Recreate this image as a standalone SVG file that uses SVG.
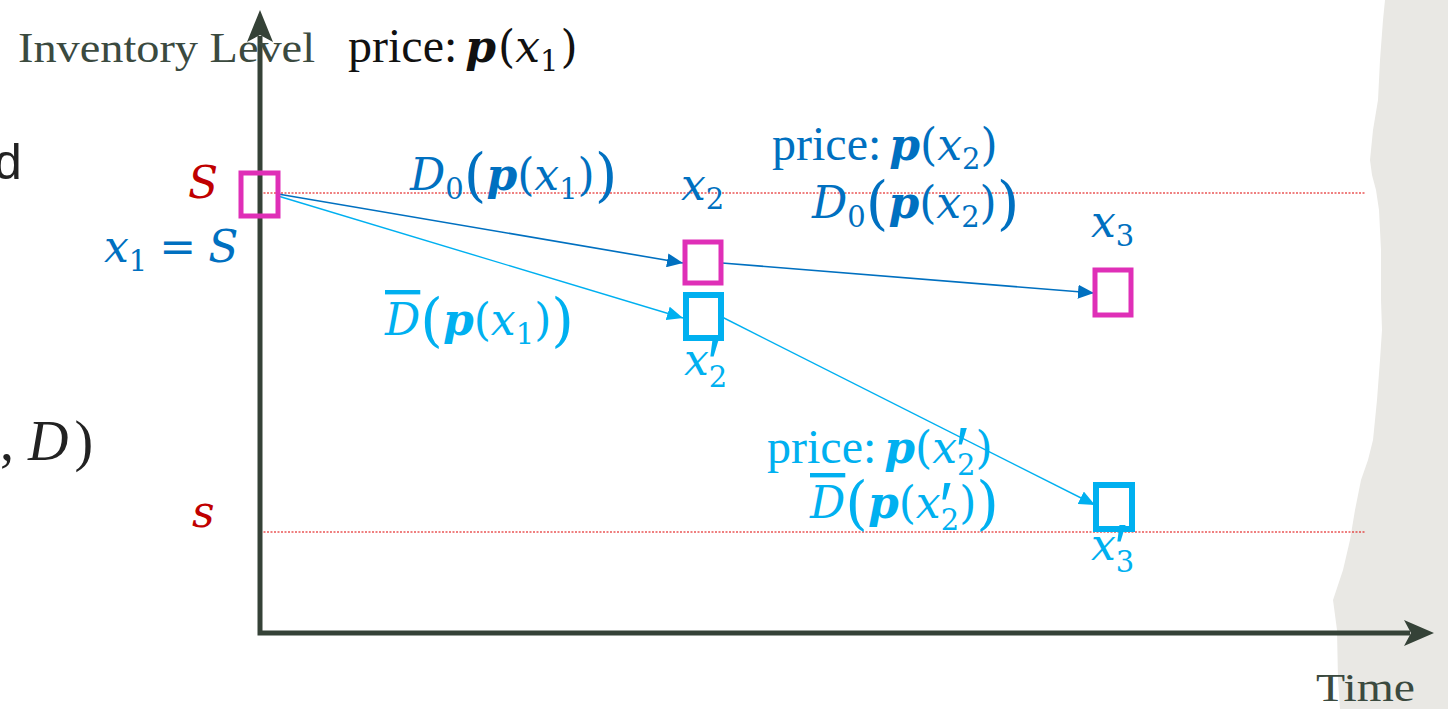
<svg xmlns="http://www.w3.org/2000/svg" width="1448" height="709" viewBox="0 0 1448 709">
<style>
.serif{font-family:"Liberation Serif","DejaVu Serif",serif;}
.m{font-family:"DejaVu Serif","Liberation Serif",serif;font-size:44px;}
.w{font-family:"Liberation Serif","DejaVu Serif",serif;font-size:48px;}
.i{font-style:italic;}
.bi{font-style:italic;font-weight:bold;}
.dk{fill:#0070C0;}
.cy{fill:#00B0F0;}
.sub{font-size:29px;}
.pr{font-family:"Liberation Sans","DejaVu Sans",sans-serif;font-size:64px;}
.big{font-size:58px;}
.axis{stroke:#354237;stroke-width:5;fill:none;}
.guide{stroke:#E00000;stroke-width:1.2;stroke-dasharray:2 1.5;fill:none;}
.boxm{fill:none;stroke:#DF2FB7;stroke-width:5;}
.boxc{fill:none;stroke:#00B0F0;stroke-width:6;}
.cdk{stroke:#0070C0;stroke-width:1.6;fill:none;}
.ccy{stroke:#00B0F0;stroke-width:1.4;fill:none;}
.ol{text-decoration:overline;}
</style>
<defs>
<marker id="ahDk" markerUnits="userSpaceOnUse" markerWidth="18" markerHeight="14" refX="16" refY="7" orient="auto"><path d="M0,0 L16,7 L0,14 Z" fill="#0070C0"/></marker>
<marker id="ahCy" markerUnits="userSpaceOnUse" markerWidth="18" markerHeight="14" refX="16" refY="7" orient="auto"><path d="M0,0 L16,7 L0,14 Z" fill="#00B0F0"/></marker>
</defs>
<rect width="1448" height="709" fill="#FFFFFF"/>
<path id="paper-edge" d="M1385,0 L1383,20 L1380,60 L1378,100 L1373,130 L1370,160 L1372,175 L1376,190 L1379,210 L1381,250 L1381,300 L1382,330 L1380,360 L1377,400 L1373,440 L1368,460 L1361,480 L1355,510 L1350,540 L1343,570 L1333,600 L1337,630 L1338,680 L1340,709 L1448,709 L1448,0 Z" fill="#E9E8E4"/>
<g id="slide-fragments" fill="#222222">
<text x="-6" y="179" font-family="Liberation Sans, Arial, sans-serif" font-size="50">d</text>
<text x="0" y="460" class="serif" font-size="56"><tspan>,</tspan><tspan class="i" dx="14">D</tspan><tspan dx="6">)</tspan></text>
</g>
<g id="guides">
<line class="guide" x1="260" y1="193" x2="1366" y2="193"/>
<line class="guide" x1="260" y1="532" x2="1366" y2="532"/>
</g>
<g id="axes">
<polyline class="axis" points="260,36 260,633 1410,633"/>
<path d="M260,10 L273,42 L260,35 L247,42 Z" fill="#354237"/>
<path d="M1434,633 L1404,620 L1411,633 L1404,646 Z" fill="#354237"/>
<text x="18" y="62" class="serif" font-size="42" fill="#3B4A3F" textLength="297" lengthAdjust="spacingAndGlyphs">Inventory Level</text>
<text x="1316" y="701" class="serif" font-size="41" fill="#3B4A3F" textLength="99" lengthAdjust="spacingAndGlyphs">Time</text>
</g>
<g id="level-labels">
<text x="188" y="198" class="m i" font-size="46" fill="#C00000">S</text>
<text x="192" y="527" class="m i" font-size="40" fill="#C00000">s</text>
</g>
<g id="connectors">
<line class="cdk" x1="278" y1="194" x2="683" y2="263" marker-end="url(#ahDk)"/>
<line class="ccy" x1="278" y1="196" x2="683" y2="318" marker-end="url(#ahCy)"/>
<line class="cdk" x1="722" y1="263" x2="1094" y2="293" marker-end="url(#ahDk)"/>
<line class="ccy" x1="722" y1="317" x2="1095" y2="505" marker-end="url(#ahCy)"/>
</g>
<g id="node-x1">
<rect class="boxm" x="241" y="173" width="37" height="43"/>
<text x="104" y="262" class="m dk"><tspan class="i">x</tspan><tspan class="sub" dy="9">1</tspan><tspan dy="-9" dx="12">=</tspan><tspan class="i" dx="12">S</tspan></text>
</g>
<g id="node-x2">
<rect class="boxm" x="685" y="242" width="36" height="41"/>
<text x="681" y="200" class="m dk"><tspan class="i">x</tspan><tspan class="sub" dy="9">2</tspan></text>
</g>
<g id="node-x2p">
<rect class="boxc" x="686" y="295" width="35" height="43"/>
<text x="684" y="375" class="m cy"><tspan class="i">x</tspan><tspan class="pr" dy="10" dx="-1">′</tspan><tspan class="sub" dx="-11" dy="2">2</tspan></text>
</g>
<g id="node-x3">
<rect class="boxm" x="1095" y="270" width="36" height="45"/>
<text x="1091" y="237" class="m dk"><tspan class="i">x</tspan><tspan class="sub" dy="9">3</tspan></text>
</g>
<g id="node-x3p">
<rect class="boxc" x="1096" y="485" width="36" height="44"/>
<text x="1091" y="560" class="m cy"><tspan class="i">x</tspan><tspan class="pr" dy="10" dx="-1">′</tspan><tspan class="sub" dx="-11" dy="2">3</tspan></text>
</g>
<g id="labels">
<text x="348" y="62" class="m" fill="#111111"><tspan class="w">price:</tspan><tspan class="bi" dx="8">p</tspan><tspan dx="2">(</tspan><tspan class="i">x</tspan><tspan class="sub" dy="9">1</tspan><tspan dy="-9" dx="2">)</tspan></text>
<text x="410" y="190" class="m dk"><tspan class="i">D</tspan><tspan class="sub" dy="9">0</tspan><tspan class="big" dy="-4">(</tspan><tspan class="bi" dy="-5">p</tspan>(<tspan class="i">x</tspan><tspan class="sub" dy="9">1</tspan><tspan dy="-9">)</tspan><tspan class="big" dy="5">)</tspan></text>
<text x="385" y="335" class="m cy"><tspan class="i ol">D</tspan><tspan class="big" dy="5">(</tspan><tspan class="bi" dy="-5">p</tspan>(<tspan class="i">x</tspan><tspan class="sub" dy="9">1</tspan><tspan dy="-9">)</tspan><tspan class="big" dy="5">)</tspan></text>
<text x="772" y="160" class="m dk"><tspan class="w">price:</tspan><tspan class="bi" dx="8">p</tspan>(<tspan class="i">x</tspan><tspan class="sub" dy="9">2</tspan><tspan dy="-9">)</tspan></text>
<text x="812" y="218" class="m dk"><tspan class="i">D</tspan><tspan class="sub" dy="9">0</tspan><tspan class="big" dy="-4">(</tspan><tspan class="bi" dy="-5">p</tspan>(<tspan class="i">x</tspan><tspan class="sub" dy="9">2</tspan><tspan dy="-9">)</tspan><tspan class="big" dy="5">)</tspan></text>
<text x="767" y="463" class="m cy"><tspan class="w">price:</tspan><tspan class="bi" dx="8">p</tspan>(<tspan class="i">x</tspan><tspan class="pr" dy="10" dx="-1">′</tspan><tspan class="sub" dx="-11" dy="2">2</tspan><tspan dy="-12">)</tspan></text>
<text x="810" y="518" class="m cy"><tspan class="i ol">D</tspan><tspan class="big" dy="5">(</tspan><tspan class="bi" dy="-5">p</tspan>(<tspan class="i">x</tspan><tspan class="pr" dy="10" dx="-1">′</tspan><tspan class="sub" dx="-11" dy="2">2</tspan><tspan dy="-12">)</tspan><tspan class="big" dy="5">)</tspan></text>
</g>
</svg>
